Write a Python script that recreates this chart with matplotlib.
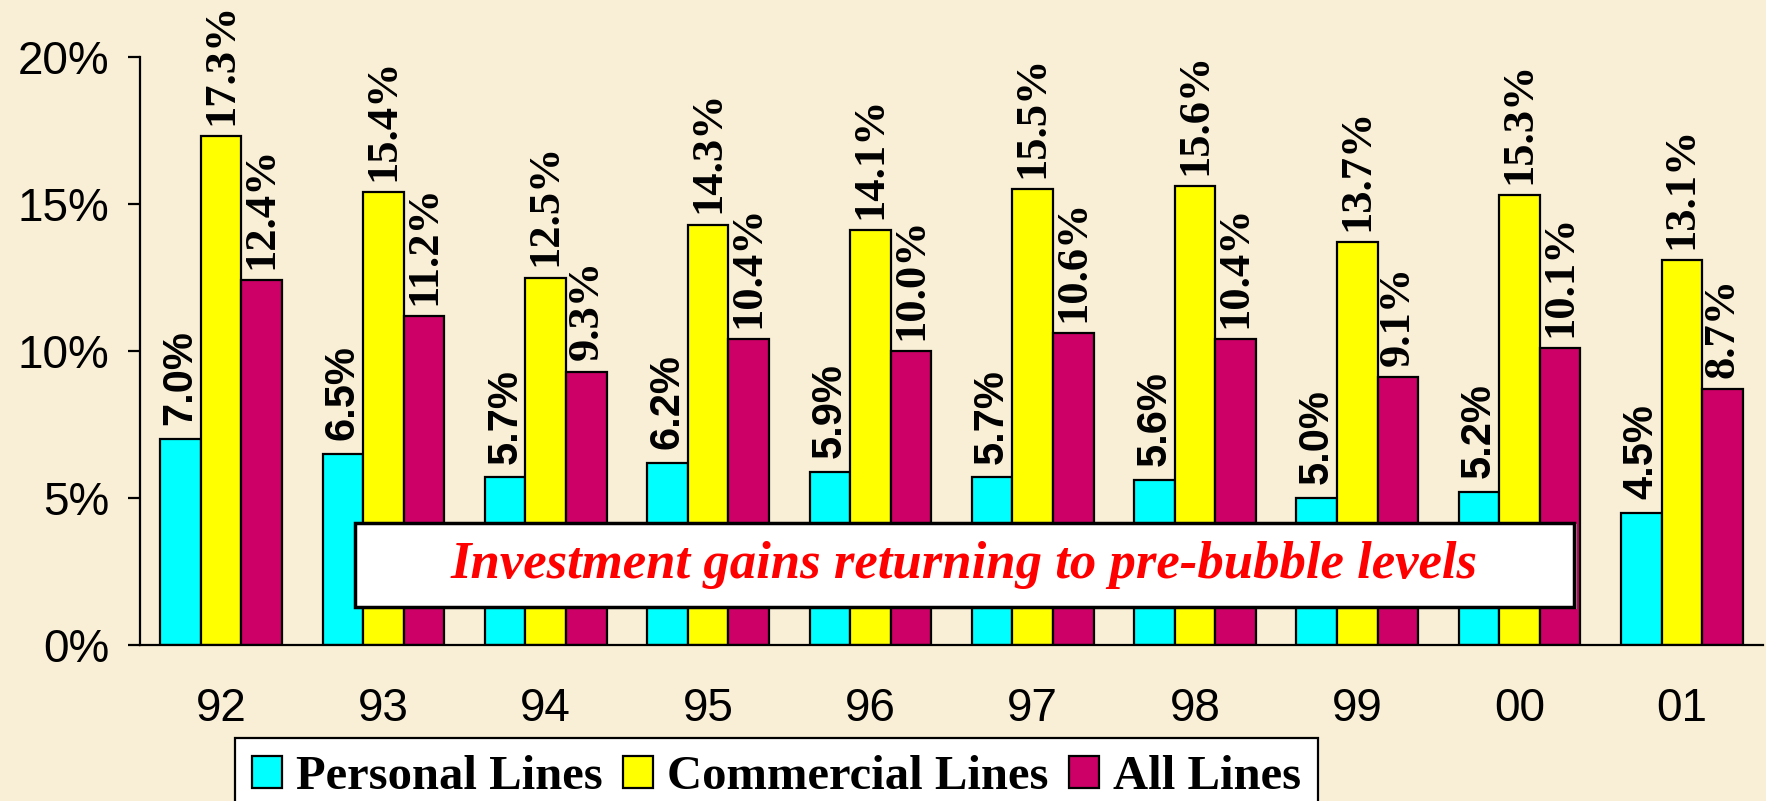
import matplotlib
matplotlib.use('Agg')
import matplotlib.pyplot as plt
from matplotlib.patches import Rectangle
import numpy as np

# data
years = ['92', '93', '94', '95', '96', '97', '98', '99', '00', '01']
personal = [7.0, 6.5, 5.7, 6.2, 5.9, 5.7, 5.6, 5.0, 5.2, 4.5]
commercial = [17.3, 15.4, 12.5, 14.3, 14.1, 15.5, 15.6, 13.7, 15.3, 13.1]
all_lines = [12.4, 11.2, 9.3, 10.4, 10.0, 10.6, 10.4, 9.1, 10.1, 8.7]
series_names = ['Personal Lines', 'Commercial Lines', 'All Lines']
y_ticks = [0, 5, 10, 15, 20]

bg = '#f9efd6'
colors = ['#00ffff', '#ffff00', '#cc0066']
serif = 'Liberation Serif'
sans = 'Liberation Sans'

fig = plt.figure(figsize=(17.66, 8.01), dpi=100, facecolor=bg)
ax = fig.add_axes([0.0793, 0.1948, 0.9190, 0.7340])
ax.set_facecolor(bg)

x = np.arange(len(years))
w = 0.25
bars = []
for i, (vals, c, name) in enumerate(zip([personal, commercial, all_lines], colors, series_names)):
    b = ax.bar(x + (i - 1) * w, vals, width=w, color=c, edgecolor='black',
               linewidth=1.6, label=name, zorder=2)
    bars.append(b)

# value labels (personal in sans, others in serif)
for i, vals in enumerate([personal, commercial, all_lines]):
    fam = sans if i == 0 else serif
    size = 30 if i == 0 else 32
    off = 10 if i == 0 else 8
    for xi, v in zip(x, vals):
        ax.annotate('%.1f%%' % v, xy=(xi + (i - 1) * w, v), xytext=(0, off),
                    textcoords='offset points', rotation=90, ha='center',
                    va='bottom', family=fam, fontweight='bold', fontsize=size,
                    annotation_clip=False, zorder=3)

ax.set_xlim(-0.5, len(years) - 0.5)
ax.set_ylim(0, 20)
ax.set_yticks(y_ticks)
ax.set_yticklabels(['%d%%' % t for t in y_ticks], family=sans, fontsize=33)
ax.set_xticks(x)
ax.set_xticklabels(years, family=sans, fontsize=33)
ax.tick_params(axis='y', length=9, width=1.6, pad=13, direction='out')
ax.tick_params(axis='x', length=0, pad=30)
for s in ['top', 'right']:
    ax.spines[s].set_visible(False)
ax.spines['left'].set_linewidth(1.6)
ax.spines['bottom'].set_linewidth(1.6)

# note box
ax.add_patch(Rectangle((0.1345, 0.0620), 0.7510, 0.1430, transform=ax.transAxes,
                       facecolor='#999999', edgecolor='none', zorder=4))
ax.add_patch(Rectangle((0.1325, 0.0646), 0.7510, 0.1430, transform=ax.transAxes,
                       facecolor='white', edgecolor='black', linewidth=2.5, zorder=5))
ax.text(0.508, 0.136, 'Investment gains returning to pre-bubble levels',
        transform=ax.transAxes, ha='center', va='center', color='red',
        family=serif, fontweight='bold', fontstyle='italic', fontsize=38, zorder=6)

# legend
leg = fig.legend(handles=bars, labels=series_names, loc='upper left',
                 bbox_to_anchor=(235 / 1766, 1 - 738 / 801), ncol=3,
                 frameon=True, fancybox=False, edgecolor='black',
                 prop={'family': serif, 'weight': 'bold', 'size': 35},
                 handlelength=0.62, handleheight=0.66, handletextpad=0.29,
                 columnspacing=0.41, borderpad=0.35, borderaxespad=0)
leg.get_frame().set_linewidth(1.6)
leg.get_frame().set_facecolor('white')
leg.get_frame().set_alpha(1)

plt.savefig('out.png', dpi=100, facecolor=bg)
